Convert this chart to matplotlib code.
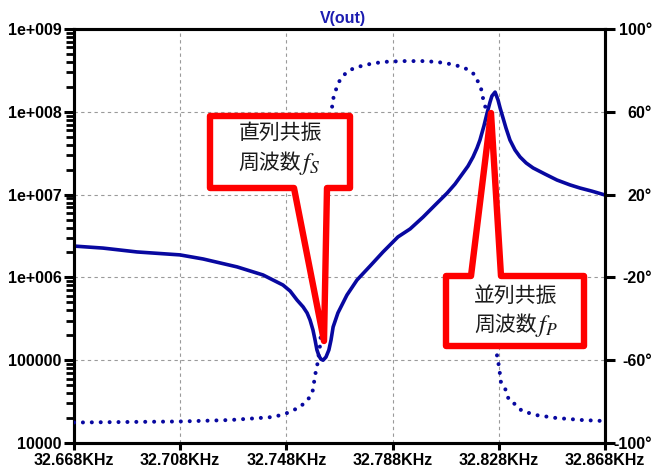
import matplotlib
matplotlib.use("Agg")
import matplotlib.pyplot as plt
from matplotlib.patches import Polygon
from matplotlib.font_manager import FontProperties
from matplotlib.ticker import FixedLocator, NullFormatter, NullLocator

# ---------------- data ----------------
mag_freq_khz = [32.6680, 32.6789, 32.6917, 32.7079, 32.7166, 32.7294, 32.7392, 32.7467,
                32.7494, 32.7520, 32.7543, 32.7558, 32.7569, 32.7580, 32.7588, 32.7595,
                32.7603, 32.7610, 32.7618, 32.7629, 32.7640, 32.7648, 32.7656, 32.7674,
                32.7708, 32.7746, 32.7795, 32.7844, 32.7900, 32.7946, 32.7995, 32.8040,
                32.8085, 32.8115, 32.8145, 32.8164, 32.8183, 32.8198, 32.8209, 32.8224,
                32.8236, 32.8247, 32.8254, 32.8266, 32.8277, 32.8285, 32.8296, 32.8307,
                32.8322, 32.8341, 32.8360, 32.8383, 32.8409, 32.8454, 32.8499, 32.8548,
                32.8586, 32.8631, 32.8680]
mag_values = [2.39e6, 2.26e6, 2.03e6, 1.87e6, 1.67e6, 1.34e6, 1.07e6, 8.09e5,
              6.85e5, 5.33e5, 4.40e5, 3.72e5, 3.06e5, 2.32e5, 1.75e5, 1.33e5,
              1.12e5, 1.03e5, 1.00e5, 1.09e5, 1.33e5, 1.75e5, 2.52e5, 3.72e5,
              6.12e5, 9.31e5, 1.37e6, 2.03e6, 3.08e6, 3.85e6, 5.36e6, 7.48e6,
              1.04e7, 1.34e7, 1.82e7, 2.21e7, 2.85e7, 3.66e7, 4.56e7, 6.75e7,
              9.68e7, 1.31e8, 1.55e8, 1.73e8, 1.39e8, 1.11e8, 8.41e7, 6.37e7,
              4.56e7, 3.46e7, 2.85e7, 2.41e7, 2.10e7, 1.77e7, 1.50e7, 1.31e7,
              1.20e7, 1.10e7, 9.89e6]

phase_freq_khz = [32.6680, 32.7080, 32.7268, 32.7381, 32.7434, 32.7483, 32.7532, 32.7569,
                  32.7580, 32.7588, 32.7595, 32.7599, 32.7607, 32.7618, 32.7629, 32.7641,
                  32.7652, 32.7656, 32.7663, 32.7671, 32.7682, 32.7701, 32.7720, 32.7746,
                  32.7795, 32.7844, 32.7919, 32.7994, 32.8047, 32.8096, 32.8145, 32.8172,
                  32.8190, 32.8202, 32.8213, 32.8217, 32.8225, 32.8236, 32.8247, 32.8258,
                  32.8266, 32.8273, 32.8281, 32.8288, 32.8303, 32.8318, 32.8345, 32.8367,
                  32.8420, 32.8495, 32.8593, 32.8680]
phase_deg = [-90.1, -89.6, -88.9, -87.9, -87.4, -85.5, -82.6, -77.8,
             -74.4, -67.2, -63.3, -59.9, -52.6, -30.9, 2.9, 36.7,
             62.3, 66.2, 69.1, 72.5, 75.4, 78.3, 80.2, 81.6,
             83.1, 84.1, 84.5, 84.5, 84.1, 83.1, 81.6, 79.7,
             77.8, 74.4, 71.5, 68.1, 64.7, 58.5, 46.4, 22.2,
             -11.6, -57.5, -63.3, -70.5, -73.4, -79.2, -81.6, -84.5,
             -86.5, -87.9, -88.9, -89.4]

x_ticks = [32.668, 32.708, 32.748, 32.788, 32.828, 32.868]
x_labels = ["32.668KHz", "32.708KHz", "32.748KHz", "32.788KHz", "32.828KHz", "32.868KHz"]
y_ticks = [1e4, 1e5, 1e6, 1e7, 1e8, 1e9]
y_labels = ["10000", "100000", "1e+006", "1e+007", "1e+008", "1e+009"]
phase_ticks = [-100, -60, -20, 20, 60, 100]
phase_labels = ["-100°", "-60°", "-20°", "20°", "60°", "100°"]

title_text = "V(out)"
callout_s = ["直列共振", "周波数", "$f_S$"]
callout_p = ["並列共振", "周波数", "$f_P$"]

# ---------------- figure ----------------
W, H = 667, 467
fig = plt.figure(figsize=(W / 100, H / 100), dpi=100)
ax = fig.add_axes([74 / W, 1 - 443 / H, 531 / W, 414 / H])
ax.set_yscale("log")
ax2 = ax.twinx()

blue = "#0808a0"
tick_fp = FontProperties(family="Liberation Sans", weight="bold", size=11.5)

# magnitude (solid)
ax.plot(mag_freq_khz, mag_values, color=blue, lw=2.6, solid_joinstyle="round",
        solid_capstyle="round", zorder=3)
ax.set_ylim(y_ticks[0], y_ticks[-1])
ax.set_xlim(x_ticks[0], x_ticks[-1])

# phase (dotted)
ax2.plot(phase_freq_khz, phase_deg, color=blue, lw=2.9,
         linestyle=(0, (0.01, 2.2)), dash_capstyle="round", zorder=3)
ax2.set_ylim(phase_ticks[0], phase_ticks[-1])

# ticks and labels
ax.set_xticks(x_ticks, x_labels)
ax.set_yticks(y_ticks, y_labels)
ax2.set_yticks(phase_ticks, phase_labels)
ax2.yaxis.set_minor_locator(NullLocator())

ax.tick_params(axis="x", which="major", direction="out", length=5, width=2.2, pad=2)
ax.tick_params(axis="y", which="major", direction="out", length=7, width=2.2, pad=2)
ax2.tick_params(axis="y", which="major", direction="out", length=7, width=2.2, pad=27)

for lab in ax.get_xticklabels() + ax.get_yticklabels():
    lab.set_fontproperties(tick_fp)
for lab in ax2.get_yticklabels():
    lab.set_fontproperties(tick_fp)
    lab.set_horizontalalignment("right")

for a in (ax, ax2):
    for s in a.spines.values():
        s.set_linewidth(2.2)
        s.set_color("black")

ax.grid(True, which="major", axis="both", color="#9a9a9a", lw=0.8, linestyle=(0, (3, 3)))

# minor ticks of the log axis
minor_ticks = [m * d for d in y_ticks[:-1] for m in range(2, 10)]
ax.yaxis.set_minor_locator(FixedLocator(minor_ticks))
ax.yaxis.set_minor_formatter(NullFormatter())
ax.xaxis.set_minor_locator(NullLocator())
ax.tick_params(axis="y", which="minor", direction="out", length=5.5, width=2.0,
               left=True, right=False, color="black")

fig.text(343 / W, 1 - 18 / H, title_text, color="#1c1cb0", ha="center", va="center",
         family="Liberation Sans", weight="bold", size=11.5)

# ---------------- callouts ----------------
def px(pts):
    return [(x / W, 1 - y / H) for x, y in pts]

poly_s = [(210, 116), (350, 116), (350, 188), (327, 188), (324, 341), (294, 188), (210, 188)]
poly_p = [(446, 276), (471, 276), (491, 113), (501, 276), (584, 276), (584, 346), (446, 346)]
for pts in (poly_s, poly_p):
    fig.add_artist(Polygon(px(pts), closed=True, transform=fig.transFigure,
                           facecolor="white", edgecolor="#ff0000", lw=4.6,
                           joinstyle="round", zorder=10))

cjk = dict(family="Noto Sans CJK JP", size=15, color="#1a1a1a", va="center", zorder=11)
mth = dict(size=18, color="#1a1a1a", va="center", ha="left", math_fontfamily="stix", zorder=11)
fig.text(280 / W, 1 - 133 / H, callout_s[0], ha="center", **cjk)
fig.text(301 / W, 1 - 163 / H, callout_s[1], ha="right", **cjk)
fig.text(299 / W, 1 - 164 / H, callout_s[2], **mth)
fig.text(516 / W, 1 - 296 / H, callout_p[0], ha="center", **cjk)
fig.text(537 / W, 1 - 325 / H, callout_p[1], ha="right", **cjk)
fig.text(535 / W, 1 - 326 / H, callout_p[2], **mth)

fig.savefig("out.png", dpi=100, facecolor="white")
